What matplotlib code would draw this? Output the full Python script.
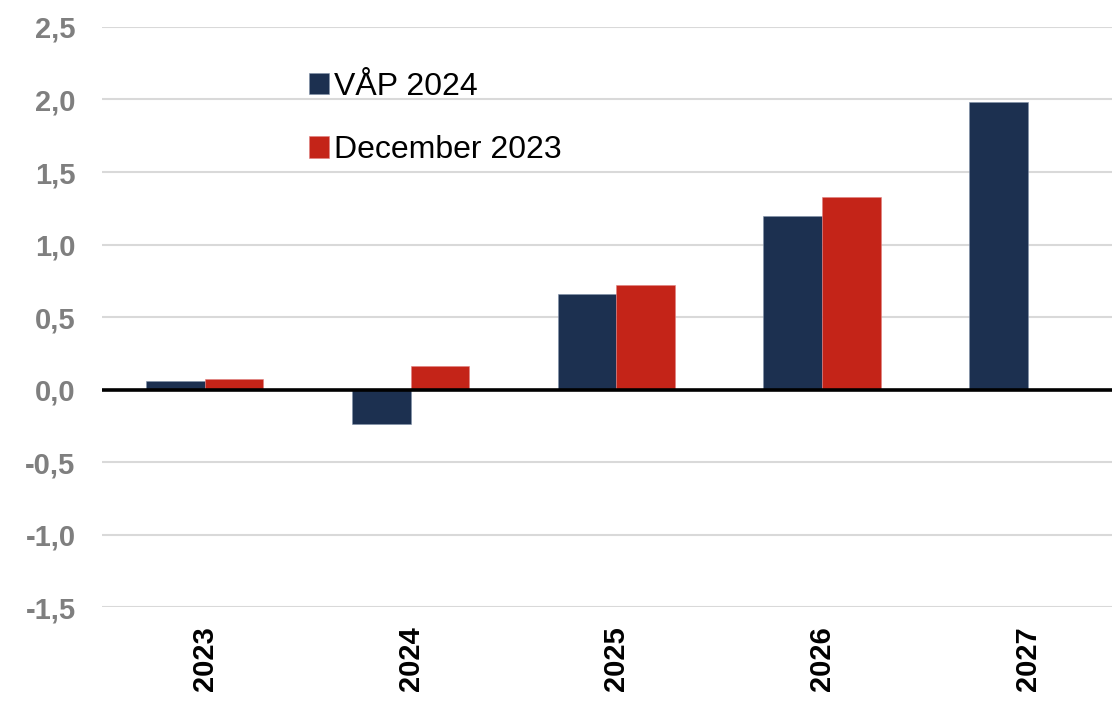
import numpy as np
import matplotlib.pyplot as plt

#---data---#
years = ["2023", "2024", "2025", "2026", "2027"]
vap_2024 = [0.06, -0.24, 0.66, 1.20, 1.98]
dec_2023 = [0.07, 0.16, 0.72, 1.33, np.nan]
y_ticks = [-1.5, -1.0, -0.5, 0.0, 0.5, 1.0, 1.5, 2.0, 2.5]

navy = "#1c3050"
red = "#c42418"

plt.rcParams['font.family'] = ['Liberation Sans', 'DejaVu Sans']

fig = plt.figure(figsize=(11.12, 7.01), dpi=100)
ax = fig.add_axes([0.0917, 0.134, 0.9083, 0.8275])

x = np.arange(len(years))
w = 0.285
ax.bar(x - w / 2, vap_2024, width=w, color=navy, label="VÅP 2024",
       edgecolor="#8090a8", linewidth=0.4, zorder=3)
ax.bar(x + w / 2, dec_2023, width=w, color=red, label="December 2023",
       edgecolor="#e08080", linewidth=0.4, zorder=3)

ax.axhline(0, color="black", linewidth=2.6, zorder=4)

ax.set_ylim(-1.5, 2.5)
ax.set_xlim(-0.5, 4.41)
ax.set_yticks(y_ticks)
ax.set_yticklabels([f"{v:.1f}".replace(".", ",") for v in y_ticks],
                   fontsize=21, fontweight="bold", color="#7f7f7f")
ax.set_xticks(x)
ax.set_xticklabels(years, rotation=90, fontsize=21, fontweight="bold")
ax.tick_params(axis="both", length=0)
ax.tick_params(axis="y", pad=19)
ax.tick_params(axis="x", pad=14)
ax.yaxis.grid(True, color="#d9d9d9", linewidth=1.5, zorder=0)
for s in ax.spines.values():
    s.set_visible(False)

ax.legend(loc="upper left", bbox_to_anchor=(0.192, 0.945), frameon=False,
          fontsize=23, handlelength=0.65, handleheight=0.65,
          handletextpad=0.15, labelspacing=1.05, borderaxespad=0)

fig.savefig("out.png", dpi=100)
